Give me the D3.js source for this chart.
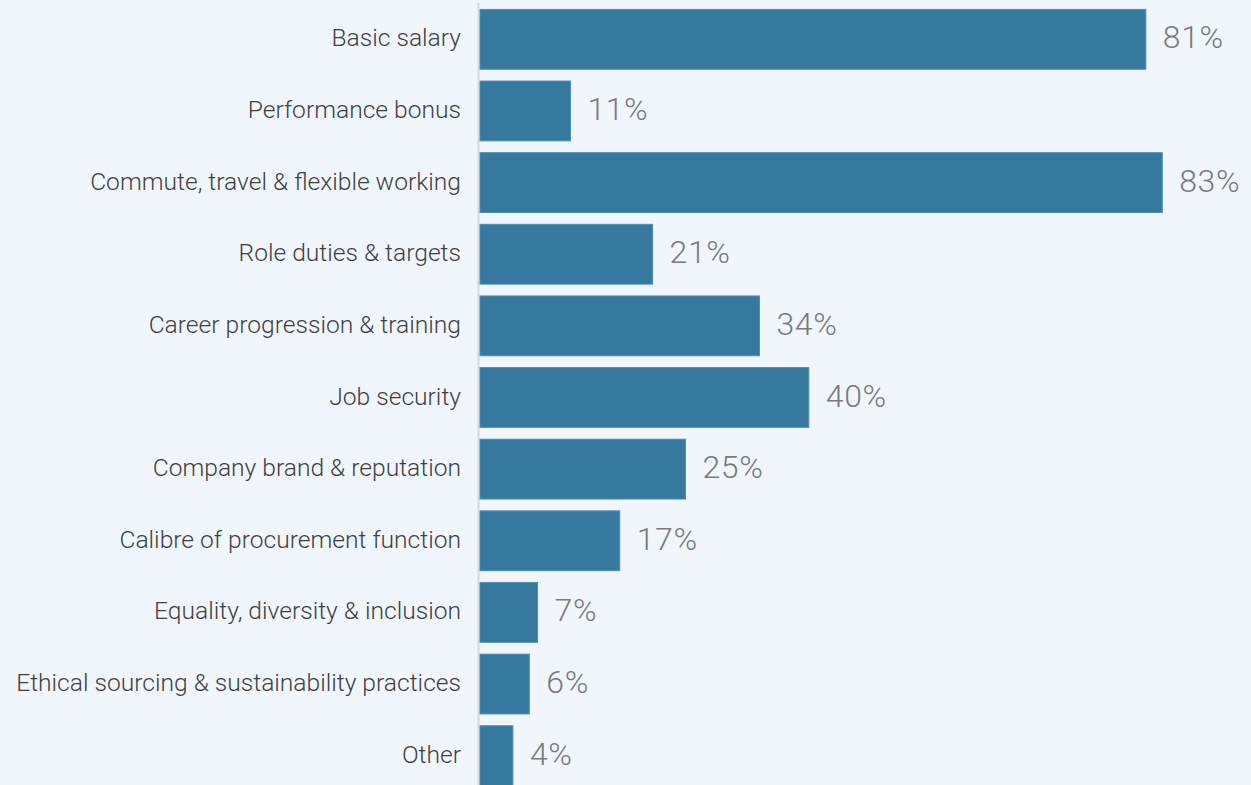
<!DOCTYPE html>
<html>
<head>
<meta charset="utf-8">
<script src="https://cdn.jsdelivr.net/npm/d3@7"></script>
<style>
  html, body { margin: 0; padding: 0; background: #f1f6fd; }
  svg { display: block; }
  text { font-family: Roboto, "Liberation Sans", sans-serif; font-weight: 300; }
</style>
</head>
<body>
<svg id="chart" width="1251" height="785"></svg>
<script>
// Share of respondents choosing each factor (%)
const categories = [
  "Basic salary",
  "Performance bonus",
  "Commute, travel & flexible working",
  "Role duties & targets",
  "Career progression & training",
  "Job security",
  "Company brand & reputation",
  "Calibre of procurement function",
  "Equality, diversity & inclusion",
  "Ethical sourcing & sustainability practices",
  "Other"
];
const values = [81, 11, 83, 21, 34, 40, 25, 17, 7, 6, 4];

const svg = d3.select("#chart");
const width = 1251, height = 785;

const x = d3.scaleLinear().domain([0, 100]).range([480, 1302]);
const y = d3.scaleBand()
  .domain(categories)
  .range([3.5, 791.5])
  .paddingInner(0.165)
  .paddingOuter(0.0825);

// vertical baseline
svg.append("line")
  .attr("x1", 478.5).attr("x2", 478.5)
  .attr("y1", 3).attr("y2", height)
  .attr("stroke", "#d6d9dd").attr("stroke-width", 2);

const rows = svg.selectAll("g.row")
  .data(categories.map((c, i) => ({ c, v: values[i] })))
  .join("g").attr("class", "row");

rows.append("rect")
  .attr("x", x(0))
  .attr("y", d => y(d.c))
  .attr("width", d => x(d.v) - x(0))
  .attr("height", y.bandwidth())
  .attr("fill", "#35799e")
  .attr("stroke", "#4f8db1")
  .attr("stroke-width", 1);

rows.append("text")
  .attr("x", 461)
  .attr("y", d => y(d.c) + y.bandwidth() / 2 + 7)
  .attr("text-anchor", "end")
  .attr("font-size", 24.6)
  .attr("fill", "#3f3f3f")
  .text(d => d.c);

rows.append("text")
  .attr("x", d => x(d.v) + 17)
  .attr("y", d => y(d.c) + y.bandwidth() / 2 + 9)
  .attr("font-size", 32)
  .attr("letter-spacing", 0.6)
  .attr("fill", "#7a7a7a")
  .text(d => d.v + "%");
</script>
</body>
</html>
